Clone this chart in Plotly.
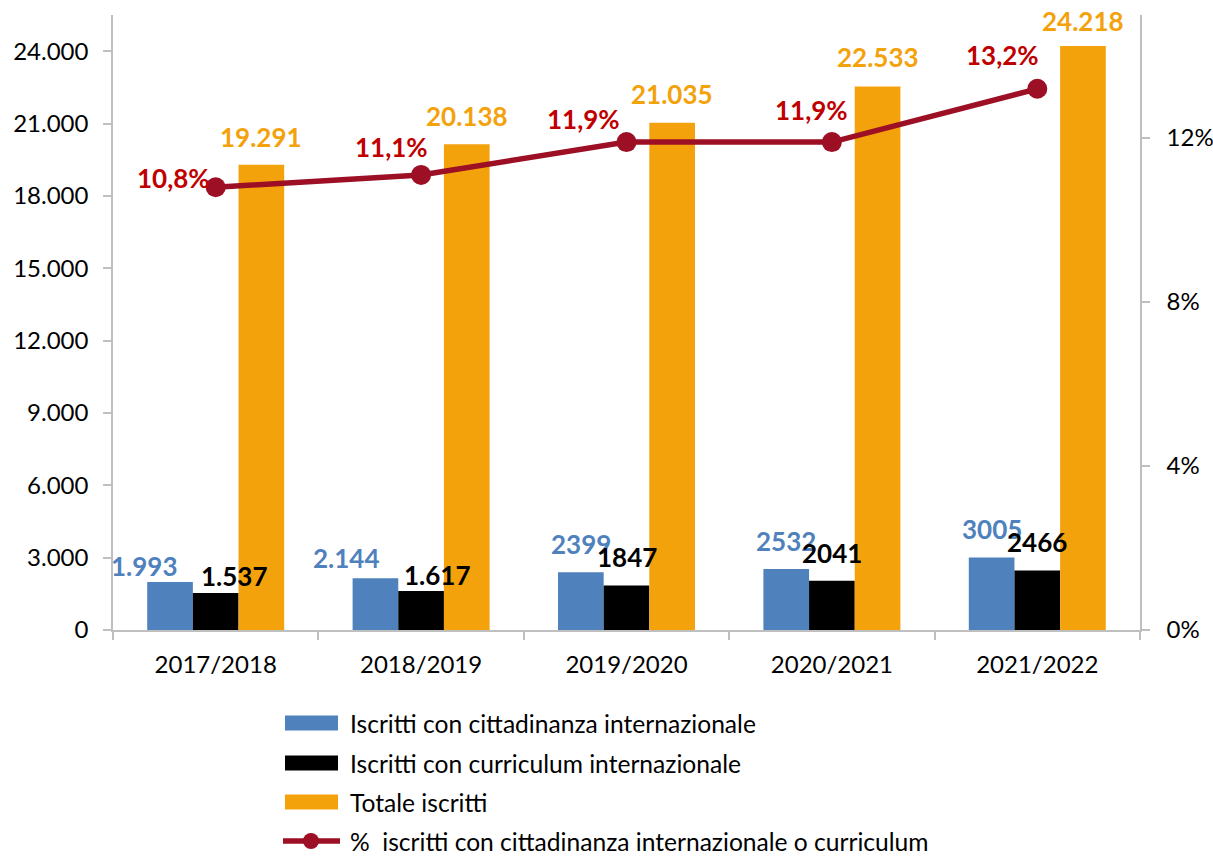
import plotly.graph_objects as go

# ---------------- data ----------------
categories = ["2017/2018", "2018/2019", "2019/2020", "2020/2021", "2021/2022"]
cittadinanza = [1993, 2144, 2399, 2532, 3005]
curriculum = [1537, 1617, 1847, 2041, 2466]
totale = [19291, 20138, 21035, 22533, 24218]
percentuale = [0.108, 0.111, 0.119, 0.119, 0.132]

label_cittadinanza = ["1.993", "2.144", "2399", "2532", "3005"]
label_curriculum = ["1.537", "1.617", "1847", "2041", "2466"]
label_totale = ["19.291", "20.138", "21.035", "22.533", "24.218"]
label_percentuale = ["10,8%", "11,1%", "11,9%", "11,9%", "13,2%"]

series_names = [
    "Iscritti con cittadinanza internazionale",
    "Iscritti con curriculum internazionale",
    "Totale iscritti",
    "%  iscritti con cittadinanza internazionale o curriculum",
]

left_ticks = [0, 3000, 6000, 9000, 12000, 15000, 18000, 21000, 24000]
right_ticks = [0, 0.04, 0.08, 0.12]

# ---------------- style ----------------
W, H = 1213, 857
ML, MR, MT, MB = 113, 73, 15, 227
FONT = "Lato"
TICK_SIZE = 24
LEG_SIZE = 24.6
LBL_SIZE = 26
BLUE = "#4F81BD"
BLACK = "#000000"
ORANGE = "#F4A20C"
LINE = "#9C0F24"
RED_LBL = "#C00000"
AXIS = "#BFBFBF"
BARGAP = 0.333
BW = (1 - BARGAP) / 3  # bar width in category units

# label nudges in pixels (dx, dy above value)
nudge_citt = [(-26, 16), (-29, 20), (0, 28.5), (0, 28), (0, 29)]
nudge_curr = [(19, 17), (16, 16), (0, 28), (0, 28), (0, 29)]
nudge_tot = [(0, 28), (0, 28), (0, 29), (0, 29.5), (0, 25)]
nudge_perc = [(-42, 9), (-30, 28), (-43, 23), (-20, 32), (-35, 34)]

fig = go.Figure()
for vals, col, name in [(cittadinanza, BLUE, series_names[0]),
                        (curriculum, BLACK, series_names[1]),
                        (totale, ORANGE, series_names[2])]:
    fig.add_trace(go.Bar(x=categories, y=vals, name=name, marker=dict(color=col, line=dict(width=0)),
                         showlegend=False, hoverinfo="x+y"))

fig.add_trace(go.Scatter(x=categories, y=percentuale, yaxis="y2", name=series_names[3],
                         mode="lines+markers", line=dict(color=LINE, width=5.5),
                         marker=dict(size=20, color=LINE), showlegend=False))

anns = []


def add_labels(values, texts, offset, color, nudges, yref="y"):
    for i, (v, t) in enumerate(zip(values, texts)):
        dx, dy = nudges[i]
        anns.append(dict(x=i + offset, y=v, xref="x", yref=yref, text=f"<b>{t}</b>",
                         showarrow=False, xanchor="center", yanchor="middle",
                         xshift=dx, yshift=dy, borderpad=0,
                         font=dict(family=FONT, size=LBL_SIZE, color=color)))


add_labels(cittadinanza, label_cittadinanza, -BW, BLUE, nudge_citt)
add_labels(curriculum, label_curriculum, 0, BLACK, nudge_curr)
add_labels(totale, label_totale, BW, ORANGE, nudge_tot)
add_labels(percentuale, label_percentuale, 0, RED_LBL, nudge_perc, yref="y2")

# ---------------- custom legend (pixel -> paper) ----------------
PW, PH = W - ML - MR, H - MT - MB


def px(xp):
    return (xp - ML) / PW


def py(yp):
    return (H - MB - yp) / PH


shapes = []
rows = [723, 763, 802, 841]
for k, (col, name) in enumerate([(BLUE, series_names[0]), (BLACK, series_names[1]), (ORANGE, series_names[2])]):
    yc = rows[k]
    shapes.append(dict(type="rect", xref="paper", yref="paper", x0=px(285), x1=px(338),
                       y0=py(yc - 7.5), y1=py(yc + 7.5), fillcolor=col, line=dict(width=0)))
    anns.append(dict(x=px(349), y=py(yc), xref="paper", yref="paper", text=name, showarrow=False,
                     xanchor="left", yanchor="middle", borderpad=0,
                     font=dict(family=FONT, size=LEG_SIZE, color="#000")))
yc = rows[3]
shapes.append(dict(type="line", xref="paper", yref="paper", x0=px(283), x1=px(340), y0=py(yc), y1=py(yc),
                   line=dict(color=LINE, width=5.5)))
shapes.append(dict(type="circle", xref="paper", yref="paper", x0=px(303), x1=px(319),
                   y0=py(yc + 8), y1=py(yc - 8), fillcolor=LINE, line=dict(width=0)))
anns.append(dict(x=px(349), y=py(yc), xref="paper", yref="paper", text=series_names[3], showarrow=False,
                 xanchor="left", yanchor="middle", borderpad=0,
                 font=dict(family=FONT, size=LEG_SIZE, color="#000")))

axis_common = dict(showline=True, linecolor=AXIS, linewidth=1.5, ticks="outside", ticklen=8,
                   tickcolor=AXIS, tickwidth=1.5, showgrid=False, zeroline=False, automargin=False,
                   tickfont=dict(family=FONT, size=TICK_SIZE, color="#000"))

fig.update_layout(
    width=W, height=H,
    margin=dict(l=ML, r=MR, t=MT, b=MB, autoexpand=False),
    paper_bgcolor="white", plot_bgcolor="white",
    barmode="group", bargap=BARGAP, bargroupgap=0,
    separators=",.",
    font=dict(family=FONT, size=TICK_SIZE, color="#000"),
    xaxis=dict(type="category", range=[-0.5, 4.5], tickson="boundaries", ticklabelstandoff=12, **axis_common),
    yaxis=dict(range=[0, 25500], tickvals=left_ticks, tickformat=",d", ticklabelstandoff=10, **axis_common),
    yaxis2=dict(range=[0, 0.15], tickvals=right_ticks, tickformat=".0%", overlaying="y", side="right",
                ticklabelstandoff=12, **axis_common),
    annotations=anns,
    shapes=shapes,
    showlegend=False,
)

fig.write_html("out.html", config={"displayModeBar": False},
               post_script="document.body.style.margin='0';")
